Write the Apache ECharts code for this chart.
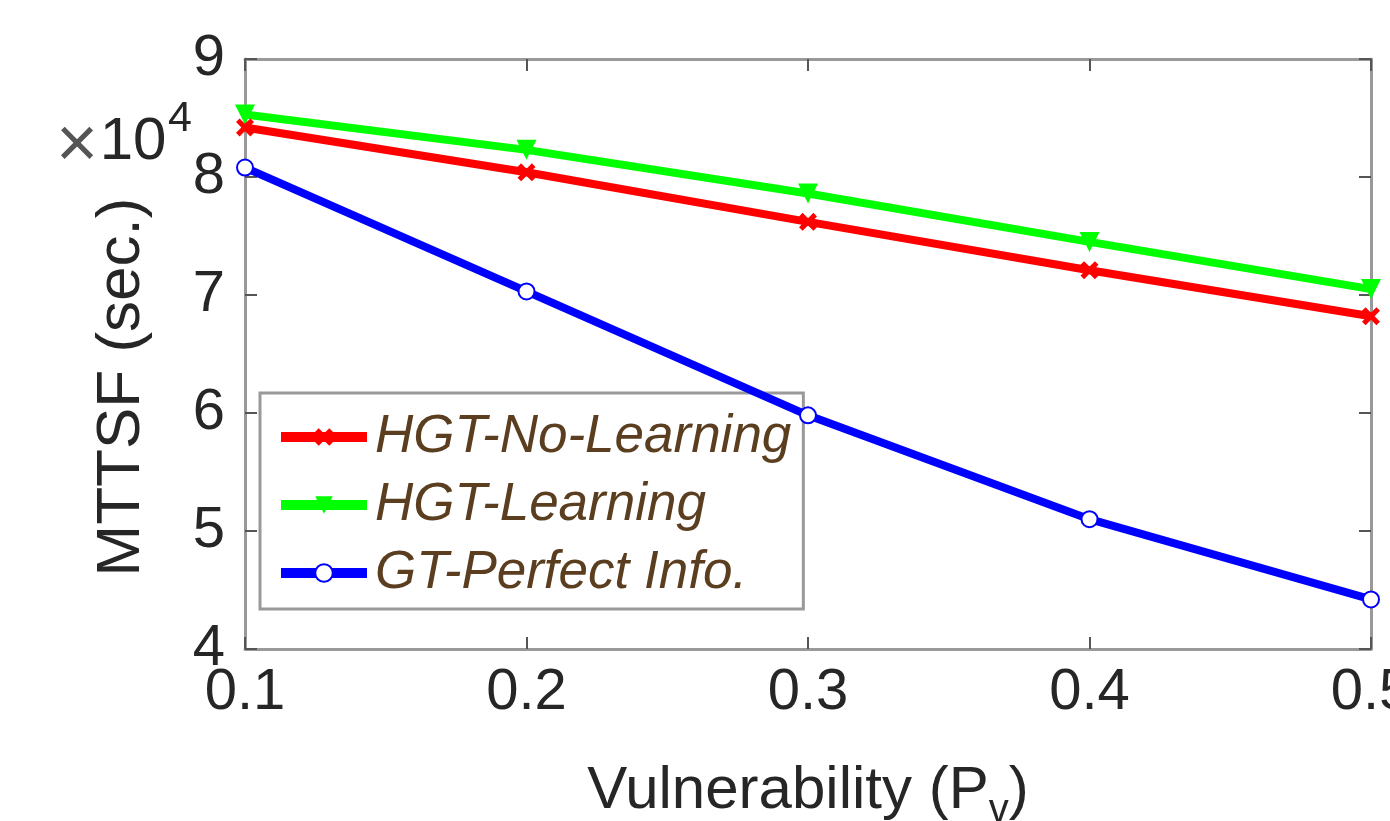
<!DOCTYPE html>
<html>
<head>
<meta charset="utf-8">
<script src="https://cdn.jsdelivr.net/npm/echarts@6/dist/echarts.min.js"></script>
<style>
  html, body { margin: 0; padding: 0; background: #fff; }
  #MttsfChart { width: 1390px; height: 821px; }
</style>
</head>
<body>
<div id="MttsfChart"></div>
<script>
// vulnerability values (x) and MTTSF in units of 1e4 sec
const vulnerability = [0.1, 0.2, 0.3, 0.4, 0.5];
const hgtNoLearning = [8.42, 8.04, 7.62, 7.21, 6.82];
const hgtLearning = [8.53, 8.23, 7.86, 7.45, 7.05];
const gtPerfectInfo = [8.08, 7.03, 5.98, 5.10, 4.42];

const font = 'Liberation Sans, Arial, sans-serif';
const axisGray = '#999';
const textDark = '#262626';

const pairs = (ys) => ys.map((y, i) => [vulnerability[i], y]);

const crossPath = 'path://M2,0L5,3L8,0L10,2L7,5L10,8L8,10L5,7L2,10L0,8L3,5L0,2Z';

const chart = echarts.init(document.getElementById('MttsfChart'));

const hiddenAxis = {
  axisLine: { show: true, lineStyle: { color: axisGray, width: 3 } },
  axisTick: { show: true, inside: true, length: 12, lineStyle: { color: '#555', width: 2 } },
  axisLabel: { show: false },
  splitLine: { show: false }
};

let option = {
  animation: false,
  backgroundColor: '#fff',
  grid: { left: 245, top: 59, right: 19, bottom: 172, outerBoundsMode: 'none' },
  xAxis: [{
    type: 'value',
    min: 0.1, max: 0.5, interval: 0.1,
    name: 'Vulnerability (P{sub|v})',
    nameLocation: 'middle',
    nameGap: 102,
    nameTextStyle: {
      fontFamily: font, fontSize: 60, color: textDark,
      rich: { sub: { fontFamily: font, fontSize: 40, color: textDark, padding: [40, 0, 0, 0] } }
    },
    axisLine: { show: true, lineStyle: { color: axisGray, width: 3 } },
    axisTick: { show: true, inside: true, length: 12, lineStyle: { color: '#555', width: 2 } },
    axisLabel: {
      fontFamily: font, fontSize: 58, color: textDark, margin: 15,
      formatter: (v) => v.toFixed(1)
    },
    splitLine: { show: false }
  }, Object.assign({ type: 'value', position: 'top', min: 0.1, max: 0.5, interval: 0.1 }, hiddenAxis)],
  yAxis: [{
    type: 'value',
    min: 4, max: 9, interval: 1,
    axisLine: { show: true, lineStyle: { color: axisGray, width: 3 } },
    axisTick: { show: true, inside: true, length: 12, lineStyle: { color: '#555', width: 2 } },
    axisLabel: { fontFamily: font, fontSize: 58, color: textDark, margin: 20 },
    splitLine: { show: false }
  }, Object.assign({ type: 'value', position: 'right', min: 4, max: 9, interval: 1 }, hiddenAxis)],
  legend: {
    orient: 'vertical',
    left: 260, top: 393,
    padding: [16, 12, 8, 16],
    itemWidth: 86, itemHeight: 22, itemGap: 12,
    backgroundColor: '#fff',
    borderColor: axisGray, borderWidth: 3, borderRadius: 0,
    lineStyle: { width: 10 },
    textStyle: { fontFamily: font, fontSize: 53, fontStyle: 'italic', color: '#5a3e1f', lineHeight: 56, padding: [0, 0, 0, 3] },
    data: ['HGT-No-Learning', 'HGT-Learning', 'GT-Perfect Info.']
  },
  graphic: [{
    type: 'text', x: 122, y: 387, rotation: Math.PI / 2,
    style: { text: 'MTTSF (sec.)', font: '62px ' + font, fill: textDark, align: 'center', verticalAlign: 'middle' }
  }, {
    type: 'text', x: 77, y: 147,
    style: { text: '×', font: '72px ' + font, fill: '#555', align: 'center', verticalAlign: 'middle' }
  }, {
    type: 'text', x: 133, y: 142,
    style: { text: '10', font: '60px ' + font, fill: textDark, align: 'center', verticalAlign: 'middle' }
  }, {
    type: 'text', x: 180, y: 119,
    style: { text: '4', font: '43px ' + font, fill: textDark, align: 'center', verticalAlign: 'middle' }
  }],
  series: [{
    name: 'HGT-No-Learning',
    type: 'line',
    data: pairs(hgtNoLearning),
    color: '#ff0000',
    lineStyle: { width: 8 },
    symbol: crossPath,
    symbolSize: 18,
    z: 3
  }, {
    name: 'HGT-Learning',
    type: 'line',
    data: pairs(hgtLearning),
    color: '#00ff00',
    lineStyle: { width: 8 },
    symbol: 'triangle',
    symbolRotate: 180,
    symbolSize: 20,
    z: 2
  }, {
    name: 'GT-Perfect Info.',
    type: 'line',
    data: pairs(gtPerfectInfo),
    color: '#0000ff',
    lineStyle: { width: 8 },
    symbol: 'emptyCircle',
    symbolSize: 16,
    itemStyle: { borderWidth: 5 },
    z: 4
  }]
};

chart.setOption(option);
</script>
</body>
</html>
